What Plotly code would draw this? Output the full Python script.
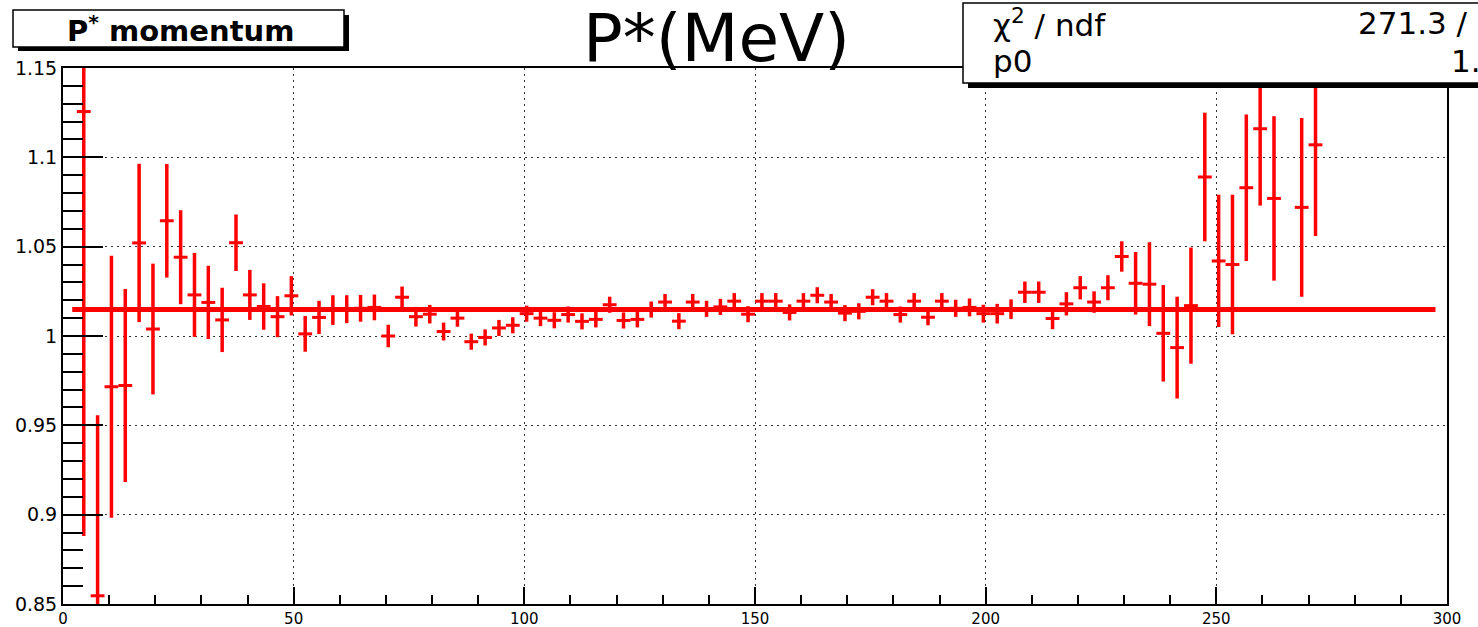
import plotly.graph_objects as go

# ---- data: P* momentum ratio per 3 MeV bin ----
bin_center = [
    4.5, 7.5, 10.5, 13.5, 16.5, 19.5, 22.5, 25.5, 28.5, 31.5,
    34.5, 37.5, 40.5, 43.5, 46.5, 49.5, 52.5, 55.5, 58.5, 61.5,
    64.5, 67.5, 70.5, 73.5, 76.5, 79.5, 82.5, 85.5, 88.5, 91.5,
    94.5, 97.5, 100.5, 103.5, 106.5, 109.5, 112.5, 115.5, 118.5, 121.5,
    124.5, 127.5, 130.5, 133.5, 136.5, 139.5, 142.5, 145.5, 148.5, 151.5,
    154.5, 157.5, 160.5, 163.5, 166.5, 169.5, 172.5, 175.5, 178.5, 181.5,
    184.5, 187.5, 190.5, 193.5, 196.5, 199.5, 202.5, 205.5, 208.5, 211.5,
    214.5, 217.5, 220.5, 223.5, 226.5, 229.5, 232.5, 235.5, 238.5, 241.5,
    244.5, 247.5, 250.5, 253.5, 256.5, 259.5, 262.5, 268.5, 271.5,
]
ratio = [
    1.1256, 0.8546, 0.9716, 0.9723, 1.0521, 1.0039, 1.0645, 1.0441, 1.0230, 1.0188,
    1.0090, 1.0522, 1.0230, 1.0165, 1.0108, 1.0225, 1.0012, 1.0104, 1.0145, 1.0150,
    1.0155, 1.0160, 1.0000, 1.0217, 1.0108, 1.0122, 1.0025, 1.0100, 0.9968, 0.9992,
    1.0045, 1.0060, 1.0125, 1.0100, 1.0088, 1.0120, 1.0082, 1.0093, 1.0175, 1.0087,
    1.0093, 1.0148, 1.0190, 1.0083, 1.0190, 1.0152, 1.0163, 1.0195, 1.0122, 1.0195,
    1.0195, 1.0132, 1.0195, 1.0228, 1.0190, 1.0128, 1.0138, 1.0217, 1.0195, 1.0120,
    1.0195, 1.0105, 1.0195, 1.0155, 1.0160, 1.0125, 1.0125, 1.0150, 1.0245, 1.0245,
    1.0098, 1.0180, 1.0270, 1.0190, 1.0270, 1.0445, 1.0295, 1.0290, 1.0015, 0.9935,
    1.0170, 1.0890, 1.0420, 1.0400, 1.0830, 1.1160, 1.0770, 1.0720, 1.1070,
]
ratio_err = [
    0.2376, 0.1010, 0.0733, 0.0540, 0.0443, 0.0366, 0.0318, 0.0263, 0.0235, 0.0205,
    0.0180, 0.0158, 0.0140, 0.0130, 0.0115, 0.0110, 0.0100, 0.0093, 0.0083, 0.0078,
    0.0075, 0.0072, 0.0063, 0.0060, 0.0055, 0.0052, 0.0050, 0.0048, 0.0045, 0.0045,
    0.0045, 0.0045, 0.0045, 0.0045, 0.0045, 0.0045, 0.0045, 0.0045, 0.0045, 0.0045,
    0.0045, 0.0045, 0.0045, 0.0045, 0.0045, 0.0045, 0.0045, 0.0045, 0.0045, 0.0045,
    0.0045, 0.0045, 0.0045, 0.0045, 0.0045, 0.0045, 0.0045, 0.0045, 0.0045, 0.0045,
    0.0045, 0.0045, 0.0045, 0.0048, 0.0050, 0.0050, 0.0055, 0.0055, 0.0060, 0.0060,
    0.0060, 0.0065, 0.0065, 0.0060, 0.0070, 0.0085, 0.0175, 0.0235, 0.0270, 0.0285,
    0.0325, 0.0360, 0.0370, 0.0390, 0.0410, 0.0430, 0.0460, 0.0500, 0.0510,
]
bin_width = 3.0

# constant fit p0 over the histogram
fit_p0 = 1.0148
fit_p0_err = 0.0006
fit_range = [2.0, 297.5]
chi2 = 271.3
ndf = 88

x_range = [0, 300]
y_range = [0.85, 1.15]

# ---- page geometry (pixels) ----
W, H = 1478, 627
L, R, T, B = 63, 1447, 68, 604


def fx(p):
    return (p - L) / (R - L)


def fy(p):
    return (B - p) / (B - T)


RED = "#ff0000"

fig = go.Figure()

fig.add_trace(go.Scatter(
    x=bin_center,
    y=ratio,
    mode="markers",
    marker=dict(size=1, color=RED),
    error_y=dict(type="data", array=ratio_err, color=RED, thickness=3.5, width=0),
    error_x=dict(type="constant", value=bin_width / 2, color=RED, thickness=3, width=0),
    showlegend=False,
    hoverinfo="x+y",
))

fig.add_trace(go.Scatter(
    x=fit_range,
    y=[fit_p0, fit_p0],
    mode="lines",
    line=dict(color=RED, width=5),
    showlegend=False,
    hoverinfo="skip",
))

grid_dash = "2px,4px"

fig.update_xaxes(
    range=x_range,
    tick0=0, dtick=50,
    ticks="inside", ticklen=17, tickwidth=1.5, tickcolor="black",
    minor=dict(dtick=10, ticks="inside", ticklen=9, tickwidth=1.5, tickcolor="black", showgrid=False),
    showgrid=True, gridcolor="#333333", gridwidth=1, griddash=grid_dash,
    showline=True, linecolor="black", linewidth=2, mirror=True,
    zeroline=False,
    tickfont=dict(family="DejaVu Sans", size=15, color="black"),
    automargin=False,
)
fig.update_yaxes(
    range=y_range,
    tick0=0.85, dtick=0.05, tickformat=".2~f",
    ticks="inside", ticklen=40, tickwidth=1.5, tickcolor="black",
    minor=dict(dtick=0.01, tick0=0.85, ticks="inside", ticklen=20, tickwidth=1.5, tickcolor="black", showgrid=False),
    showgrid=True, gridcolor="#333333", gridwidth=1, griddash=grid_dash,
    showline=True, linecolor="black", linewidth=2, mirror=True,
    zeroline=False,
    tickfont=dict(family="DejaVu Sans", size=19, color="black"),
    automargin=False,
)

shapes = [
    # histogram title box with shadow
    dict(type="rect", xref="paper", yref="paper", x0=fx(18), x1=fx(349), y0=fy(51), y1=fy(15),
         fillcolor="black", line=dict(width=0), layer="above"),
    dict(type="rect", xref="paper", yref="paper", x0=fx(13), x1=fx(344), y0=fy(47), y1=fy(10),
         fillcolor="white", line=dict(color="black", width=1.5), layer="above"),
    # fit statistics box with shadow
    dict(type="rect", xref="paper", yref="paper", x0=fx(968), x1=fx(1520), y0=fy(88), y1=fy(8),
         fillcolor="black", line=dict(width=0), layer="above"),
    dict(type="rect", xref="paper", yref="paper", x0=fx(963), x1=fx(1515), y0=fy(83), y1=fy(3),
         fillcolor="white", line=dict(color="black", width=1.5), layer="above"),
]

box_font = dict(family="DejaVu Sans", size=31, color="black")
annotations = [
    dict(text="<b>P<sup>*</sup> momentum</b>", x=fx(180), y=fy(29), xref="paper", yref="paper",
         xanchor="center", yanchor="middle", showarrow=False,
         font=dict(family="DejaVu Sans", size=29, color="black")),
    dict(text="P*(MeV)", x=fx(716), y=fy(39), xref="paper", yref="paper",
         xanchor="center", yanchor="middle", showarrow=False,
         font=dict(family="DejaVu Sans", size=66, color="black")),
    dict(text="χ<sup>2</sup> / ndf", x=fx(991), y=fy(23), xref="paper", yref="paper",
         xanchor="left", yanchor="middle", showarrow=False, font=box_font),
    dict(text="p0", x=fx(991), y=fy(61), xref="paper", yref="paper",
         xanchor="left", yanchor="middle", showarrow=False, font=box_font),
    # the statistics box runs past the right edge of the canvas
    dict(text=f"{chi2:.1f} / {ndf}", x=fx(1356), y=fy(23), xref="paper", yref="paper",
         xanchor="left", yanchor="middle", showarrow=False, font=box_font),
    dict(text=f"{fit_p0:.3f} ± {fit_p0_err:.4f}", x=fx(1449), y=fy(61), xref="paper", yref="paper",
         xanchor="left", yanchor="middle", showarrow=False, font=box_font),
]

fig.update_layout(
    width=W, height=H, autosize=False,
    margin=dict(l=L, r=W - R, t=T, b=H - B, pad=0),
    paper_bgcolor="white", plot_bgcolor="white",
    shapes=shapes,
    annotations=annotations,
    showlegend=False,
)

fig.write_html("out.html")
